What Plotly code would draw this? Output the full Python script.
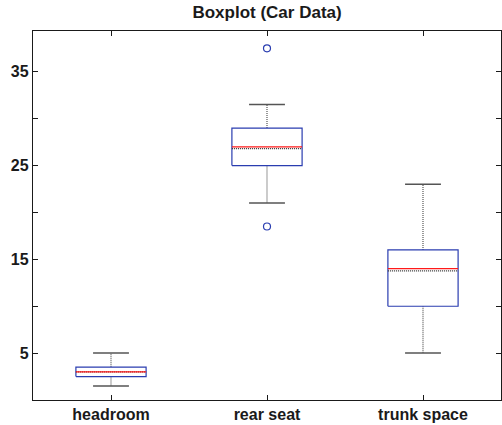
import plotly.graph_objects as go

categories = ["headroom", "rear seat", "trunk space"]
lower_whisker = [1.5, 21.0, 5.0]
q1 = [2.5, 25.0, 10.0]
median = [3.0, 27.0, 14.0]
mean = [2.99, 26.8, 13.76]
q3 = [3.5, 29.0, 16.0]
upper_whisker = [5.0, 31.5, 23.0]
outliers = [[], [37.5, 18.5], []]
y_ticks = [5, 15, 25, 35]

BOX_HALF = 0.225
CAP_HALF = 0.115
BLUE = "#2a3db0"

fig = go.Figure()

bx, by, mx, my, ax, ay, wx, wy, cx, cy, ox, oy = ([] for _ in range(12))
for i in range(len(categories)):
    l, r = i - BOX_HALF, i + BOX_HALF
    bx += [l, r, r, l, l, None]
    by += [q1[i], q1[i], q3[i], q3[i], q1[i], None]
    mx += [l, r, None]
    my += [median[i], median[i], None]
    ax += [l, r, None]
    ay += [mean[i], mean[i], None]
    wx += [i, i, None, i, i, None]
    wy += [q3[i], upper_whisker[i], None, q1[i], lower_whisker[i], None]
    cx += [i - CAP_HALF, i + CAP_HALF, None, i - CAP_HALF, i + CAP_HALF, None]
    cy += [upper_whisker[i], upper_whisker[i], None, lower_whisker[i], lower_whisker[i], None]
    for o in outliers[i]:
        ox.append(i)
        oy.append(o)

fig.add_trace(go.Scatter(x=wx, y=wy, mode="lines", line=dict(color="#555555", width=1.2, dash="1px,1px"), hoverinfo="skip"))
fig.add_trace(go.Scatter(x=cx, y=cy, mode="lines", line=dict(color="#555555", width=1.5), hoverinfo="skip"))
fig.add_trace(go.Scatter(x=bx, y=by, mode="lines", line=dict(color=BLUE, width=1.2), fill="toself", fillcolor="white"))
fig.add_trace(go.Scatter(x=ax, y=ay, mode="lines", line=dict(color="#333333", width=1.2, dash="1px,1px")))
fig.add_trace(go.Scatter(x=mx, y=my, mode="lines", line=dict(color="#ff1a1a", width=1.2)))
fig.add_trace(go.Scatter(x=ox, y=oy, mode="markers",
                         marker=dict(symbol="circle-open", size=7, color=BLUE, line=dict(width=1.2, color=BLUE))))

fig.update_layout(
    width=502, height=425,
    margin=dict(l=33, r=1, t=31, b=25),
    paper_bgcolor="white", plot_bgcolor="white",
    showlegend=False,
    font=dict(family="Liberation Sans, Arial, sans-serif", color="#1a1a1a"),
    title=dict(text="<b>Boxplot (Car Data)</b>", x=0.532, xanchor="center", y=0.972, yanchor="middle",
               font=dict(size=17, color="#1a1a1a")),
)
fig.update_xaxes(
    range=[-0.5, 2.5], tickvals=list(range(len(categories))),
    ticktext=["<b>%s</b>" % c for c in categories],
    tickfont=dict(size=16), automargin=False,
    showgrid=False, zeroline=False,
    showline=True, linecolor="#1a1a1a", linewidth=1.3, mirror="ticks",
    ticks="inside", ticklen=5, tickcolor="#1a1a1a", tickwidth=1,
)
fig.update_yaxes(
    range=[0, 39.35], tickvals=y_ticks, ticktext=["<b>%d</b>" % v for v in y_ticks],
    tickfont=dict(size=16), automargin=False,
    showgrid=False, zeroline=False,
    showline=True, linecolor="#1a1a1a", linewidth=1.3, mirror="ticks",
    ticks="inside", ticklen=5, tickcolor="#1a1a1a", tickwidth=1,
    minor=dict(tickvals=[10, 20, 30], ticks="inside", ticklen=5, tickcolor="#1a1a1a"),
)

fig.write_html("out.html", config={"displayModeBar": False},
               post_script="document.body.style.margin='0';document.body.style.overflow='hidden';")
